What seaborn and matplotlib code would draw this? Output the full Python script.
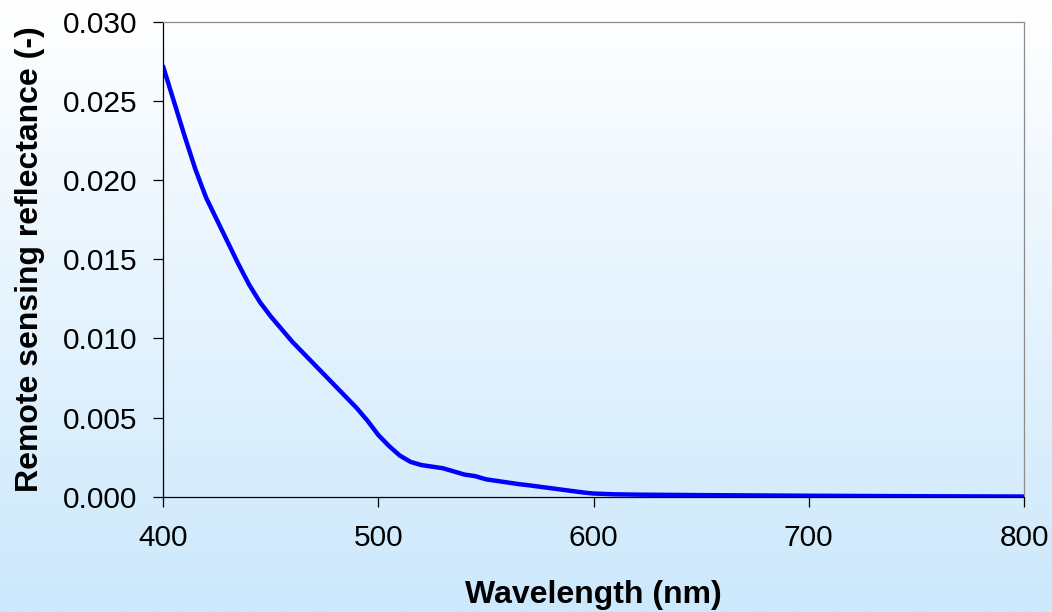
import numpy as np
import pandas as pd
import matplotlib
matplotlib.use("Agg")
import matplotlib.pyplot as plt
from matplotlib.colors import LinearSegmentedColormap
import seaborn as sns

# Remote sensing reflectance spectrum
wavelength = [400, 405, 410, 415, 420, 425, 430, 435, 440, 445,
              450, 455, 460, 465, 470, 475, 480, 485, 490, 495,
              500, 505, 510, 515, 520, 525, 530, 535, 540, 545,
              550, 555, 560, 565, 570, 575, 580, 585, 590, 595,
              600, 610, 620, 650, 700, 750, 800]
rrs = [0.0272, 0.0250, 0.0228, 0.0207, 0.0189, 0.0175, 0.0161, 0.0147, 0.0134, 0.0123,
       0.0114, 0.0106, 0.0098, 0.0091, 0.0084, 0.0077, 0.0070, 0.0063, 0.0056, 0.0048,
       0.0039, 0.0032, 0.0026, 0.0022, 0.0020, 0.0019, 0.0018, 0.0016, 0.0014, 0.0013,
       0.0011, 0.0010, 0.00090, 0.00080, 0.00072, 0.00063, 0.00054, 0.00045, 0.00036, 0.00027,
       0.00020, 0.00015, 0.00013, 0.00010, 0.00006, 0.00003, 0.00001]

x_ticks = [400, 500, 600, 700, 800]
y_ticks = [0.000, 0.005, 0.010, 0.015, 0.020, 0.025, 0.030]
y_tick_labels = ["0.000", "0.005", "0.010", "0.015", "0.020", "0.025", "0.030"]

df = pd.DataFrame({"Wavelength": wavelength, "Rrs": rrs})

sns.set_style("ticks")
plt.rcParams["font.family"] = ["Liberation Sans", "DejaVu Sans"]

fig = plt.figure(figsize=(10.52, 6.12), dpi=100)

# Vertical background gradient, white at the top to pale blue at the bottom
bg = fig.add_axes([0, 0, 1, 1], zorder=0)
grad_cmap = LinearSegmentedColormap.from_list("bg", ["#ffffff", "#cce8fc"])
bg.imshow(np.linspace(0, 1, 256).reshape(-1, 1), aspect="auto", cmap=grad_cmap,
          extent=[0, 1, 0, 1], origin="upper")
bg.set_axis_off()

ax = fig.add_axes([0.155, 0.1884, 0.8184, 0.7756], zorder=1)
ax.patch.set_alpha(0)

sns.lineplot(data=df, x="Wavelength", y="Rrs", ax=ax, color="#0000ff", linewidth=3.2)

ax.set_xlim(400, 800)
ax.set_ylim(0, 0.030)
ax.set_xticks(x_ticks)
ax.set_yticks(y_ticks)
ax.set_yticklabels(y_tick_labels)

for side in ["left", "bottom"]:
    ax.spines[side].set_color("black")
    ax.spines[side].set_linewidth(0.9)
for side in ["top", "right"]:
    ax.spines[side].set_visible(True)
    ax.spines[side].set_color("#8c8c8c")
    ax.spines[side].set_linewidth(0.9)

ax.tick_params(axis="both", direction="out", length=7.5, width=0.9, color="black",
               labelsize=21.5, labelcolor="black")
ax.tick_params(axis="x", pad=12)
ax.tick_params(axis="y", pad=11)

ax.set_xlabel("Wavelength (nm)", fontsize=23, fontweight="bold", labelpad=20.5, color="black")
ax.set_ylabel("Remote sensing reflectance (-)", fontsize=23, fontweight="bold", labelpad=13,
              color="black")

fig.savefig("out.png", dpi=100)
